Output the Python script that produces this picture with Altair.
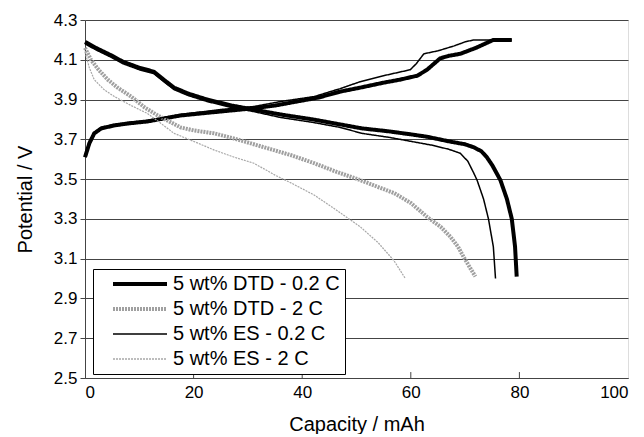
import altair as alt
import pandas as pd

series_names = ["5 wt% DTD - 0.2 C", "5 wt% DTD - 2 C", "5 wt% ES - 0.2 C", "5 wt% ES - 2 C"]
series_widths = [4, 4, 1.5, 1.2]

# DTD 0.2 C discharge
dtd02_dis_cap = [0, 2, 5, 7, 10, 12.7, 14.5, 16.4, 19, 22.5, 27, 31, 36, 42, 47, 51, 56, 60, 63, 67, 70, 71.6, 73, 74, 75, 76.5, 77.7, 78.6, 79.2, 79.5]
dtd02_dis_v = [4.19, 4.16, 4.12, 4.09, 4.06, 4.04, 4.00, 3.96, 3.93, 3.90, 3.87, 3.85, 3.825, 3.80, 3.775, 3.755, 3.74, 3.725, 3.713, 3.69, 3.675, 3.66, 3.64, 3.61, 3.57, 3.495, 3.40, 3.30, 3.16, 3.01]
# DTD 0.2 C charge
dtd02_chg_cap = [0, 0.8, 1.7, 3, 5.4, 8, 11.5, 17.6, 25, 31, 35, 39, 43, 47, 50.7, 55, 58, 61.2, 63, 65.4, 67, 69.1, 72, 75.2, 78.6]
dtd02_chg_v = [3.61, 3.68, 3.73, 3.755, 3.77, 3.78, 3.79, 3.82, 3.84, 3.856, 3.87, 3.89, 3.91, 3.94, 3.96, 3.985, 4.0, 4.02, 4.05, 4.107, 4.12, 4.13, 4.16, 4.20, 4.20]
# ES 0.2 C discharge
es02_dis_cap = [0, 2, 5, 7, 10, 12.7, 14.5, 16.4, 19, 22.5, 27, 31, 36, 42, 47, 51, 56, 60, 64, 67, 69.1, 70.5, 71.6, 72.2, 73.4, 74.3, 75.2, 75.6]
es02_dis_v = [4.18, 4.15, 4.11, 4.08, 4.05, 4.03, 3.99, 3.95, 3.92, 3.89, 3.86, 3.84, 3.81, 3.785, 3.76, 3.73, 3.71, 3.69, 3.67, 3.65, 3.63, 3.59, 3.53, 3.495, 3.40, 3.30, 3.16, 3.00]
# ES 0.2 C charge
es02_chg_cap = [0, 0.8, 1.7, 3, 5.4, 8, 11.5, 17.6, 25, 31.1, 36, 42.2, 47, 50.7, 55, 59.9, 61, 62.4, 65, 68, 70, 71.6, 78.6]
es02_chg_v = [3.62, 3.69, 3.735, 3.76, 3.775, 3.785, 3.795, 3.825, 3.85, 3.865, 3.89, 3.915, 3.955, 3.99, 4.02, 4.05, 4.08, 4.13, 4.145, 4.17, 4.19, 4.20, 4.20]
# DTD 2 C discharge
dtd2_dis_cap = [0, 1.1, 2.5, 4.2, 6, 8.5, 11, 13.4, 15.5, 17.6, 20, 23.8, 28, 33, 38, 42.2, 46, 50.7, 54, 56.9, 60, 63, 65.5, 67.3, 68.7, 69.7, 71, 71.9]
dtd2_dis_v = [4.16, 4.10, 4.05, 4.00, 3.96, 3.915, 3.86, 3.82, 3.79, 3.76, 3.745, 3.73, 3.70, 3.66, 3.62, 3.58, 3.54, 3.495, 3.46, 3.43, 3.38, 3.31, 3.26, 3.21, 3.16, 3.11, 3.05, 3.01]
# ES 2 C discharge
es2_dis_cap = [0, 0.8, 1.7, 3.5, 5.4, 8.5, 11.5, 14, 16.4, 20, 23.8, 27.5, 31.1, 35, 38, 42.2, 46, 50.7, 54, 56.9, 59]
es2_dis_v = [4.14, 4.06, 4.00, 3.95, 3.915, 3.87, 3.83, 3.78, 3.73, 3.69, 3.646, 3.61, 3.58, 3.52, 3.48, 3.42, 3.35, 3.26, 3.18, 3.09, 3.00]

x_ticks = [0, 20, 40, 60, 80, 100]
y_ticks = [2.5, 2.7, 2.9, 3.1, 3.3, 3.5, 3.7, 3.9, 4.1, 4.3]
inner_ticks = [20, 40, 60, 80]

curves = [
    (0, "dtd02_dis", dtd02_dis_cap, dtd02_dis_v),
    (0, "dtd02_chg", dtd02_chg_cap, dtd02_chg_v),
    (1, "dtd2_dis", dtd2_dis_cap, dtd2_dis_v),
    (2, "es02_dis", es02_dis_cap, es02_dis_v),
    (2, "es02_chg", es02_chg_cap, es02_chg_v),
    (3, "es2_dis", es2_dis_cap, es2_dis_v),
]
rows = []
for k, seg, caps, vs in curves:
    for i, (c, v) in enumerate(zip(caps, vs)):
        rows.append({"cap": c, "V": v, "series": series_names[k], "w": series_widths[k],
                     "seg": seg, "i": i})
df = pd.DataFrame(rows)

FONT = "Liberation Sans"

x_scale = alt.Scale(domain=[0, 100], nice=False)
y_scale = alt.Scale(domain=[2.5, 4.3], nice=False, zero=False)
x_axis = alt.Axis(title="Capacity / mAh", values=x_ticks, grid=False, ticks=False,
                  labelPadding=6, titlePadding=14, labelFontSize=17, titleFontSize=20,
                  labelFont=FONT, titleFont=FONT, labelColor="black", titleColor="black",
                  domainColor="#444", titleFontWeight="normal", labelOverlap=False)
y_axis = alt.Axis(title="Potential / V", values=y_ticks, format=".1f", grid=True,
                  gridColor="#444", gridWidth=1, tickColor="#444", tickSize=5,
                  labelPadding=3, titlePadding=18, labelFontSize=17, titleFontSize=20,
                  labelFont=FONT, titleFont=FONT, labelColor="black", titleColor="black",
                  domainColor="#444", titleFontWeight="normal", labelOverlap=False)

thin_list = "['" + series_names[2] + "','" + series_names[3] + "']"

lines = alt.Chart(df).mark_line().encode(
    x=alt.X("cap:Q", scale=x_scale, axis=x_axis),
    y=alt.Y("V:Q", scale=y_scale, axis=y_axis),
    detail="seg:N",
    order="i:Q",
    color=alt.Color("series:N", scale=alt.Scale(domain=series_names,
                    range=["#000000", "#a0a0a0", "#000000", "#a8a8a8"]),
                    legend=alt.Legend(title=None, orient="none", legendX=8, legendY=249,
                                      symbolType="M-2.7,0H2.7", symbolSize=400, symbolOffset=32,
                                      labelFontSize=20, labelFont=FONT, labelColor="black",
                                      labelOffset=23, rowPadding=5, padding=5, labelLimit=400,
                                      strokeColor="black", fillColor="white",
                                      symbolStrokeWidth={"expr": "indexof(" + thin_list + ", datum.value) >= 0 ? 1.5 : 4"})),
    strokeWidth=alt.StrokeWidth("w:Q", scale=None, legend=None),
    strokeDash=alt.StrokeDash("series:N", scale=alt.Scale(domain=series_names,
                              range=[[1, 0], [2, 1], [1, 0], [2, 1]])),
)

ticks_df = pd.DataFrame({"t": inner_ticks, "y0": [2.5] * 4, "y1": [2.53] * 4})
ticks = alt.Chart(ticks_df).mark_rule(color="#444", strokeWidth=1).encode(
    x=alt.X("t:Q", scale=x_scale, axis=x_axis),
    y=alt.Y("y0:Q", scale=y_scale, axis=y_axis),
    y2="y1:Q")

chart = alt.layer(ticks, lines).properties(
    width=543, height=358,
    autosize=alt.AutoSizeParams(type="none"),
    padding={"left": 77, "top": 12, "right": 8, "bottom": 56},
).configure_view(stroke="#888", strokeWidth=1).configure(background="white")

chart.save("out.html", embed_options={"renderer": "svg", "actions": False})
